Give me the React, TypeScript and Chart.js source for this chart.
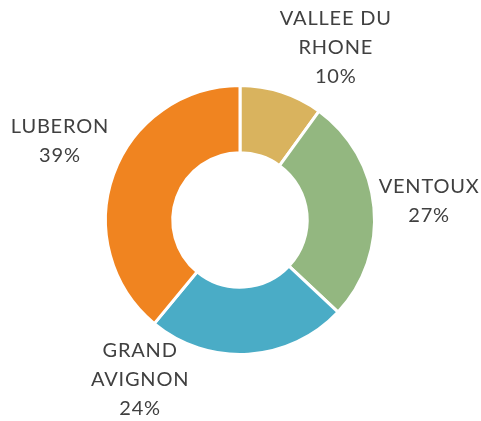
import React, { useEffect, useRef } from "react";
import { Chart, registerables } from "chart.js";

Chart.register(...registerables);

const categories = ["VALLEE DU RHONE", "VENTOUX", "GRAND AVIGNON", "LUBERON"];
const labelLines = [["VALLEE DU", "RHONE"], ["VENTOUX"], ["GRAND", "AVIGNON"], ["LUBERON"]];
const values = [10, 27, 24, 39];
const colors = ["#D9B35E", "#93B780", "#4AACC6", "#F08420"];

// label placement relative to each arc: angle shift (deg) and distance beyond outer edge (px)
const labelAngleShift = [11, -0.3, 35.6, 3.8];
const labelDistance = [63, 55.5, 54, 62];

const labelPlugin = {
  id: "outerLabels",
  afterDatasetsDraw(chart: any) {
    const ctx = chart.ctx;
    const meta = chart.getDatasetMeta(0);
    const data = chart.data.datasets[0].data as number[];
    const total = data.reduce((a, b) => a + b, 0);
    ctx.save();
    ctx.font = "20px Lato";
    ctx.fillStyle = "#404040";
    ctx.textAlign = "center";
    ctx.textBaseline = "middle";
    try { (ctx as any).letterSpacing = "0.8px"; } catch (e) {}
    const lineH = 29;
    meta.data.forEach((arc: any, i: number) => {
      const p = arc.getProps(["x", "y", "startAngle", "endAngle", "outerRadius"], true);
      const mid = (p.startAngle + p.endAngle) / 2 + (labelAngleShift[i] * Math.PI) / 180;
      const r = p.outerRadius + labelDistance[i];
      const cx = p.x + Math.cos(mid) * r;
      const cy = p.y + Math.sin(mid) * r;
      const lines = [...labelLines[i], Math.round((data[i] / total) * 100) + "%"];
      const y0 = cy - ((lines.length - 1) * lineH) / 2;
      lines.forEach((t, k) => ctx.fillText(t, cx, y0 + k * lineH));
    });
    ctx.restore();
  },
};

export default function App() {
  const ref = useRef<HTMLCanvasElement>(null);
  useEffect(() => {
    if (!ref.current) return;
    const chart = new Chart(ref.current, {
      type: "doughnut",
      data: {
        labels: categories,
        datasets: [
          {
            data: values,
            backgroundColor: colors,
            borderColor: "#ffffff",
            borderWidth: 3,
          },
        ],
      },
      options: {
        responsive: false,
        animation: false,
        cutout: "50%",
        layout: { padding: { left: 104, right: 105, top: 84, bottom: 65 } },
        plugins: { legend: { display: false }, tooltip: { enabled: false } },
      },
      plugins: [labelPlugin],
    });
    return () => chart.destroy();
  }, []);
  return (
    <div style={{ position: "absolute", left: 0, top: 0, width: 481, height: 421 }}>
      <canvas ref={ref} width={481} height={421} />
    </div>
  );
}
